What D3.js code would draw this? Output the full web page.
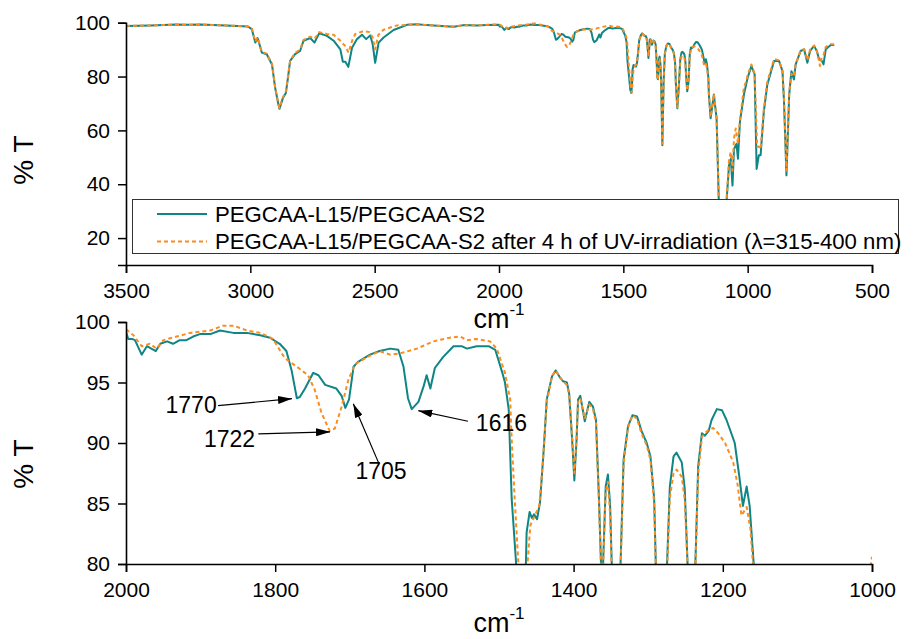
<!DOCTYPE html>
<html>
<head>
<meta charset="utf-8">
<script src="https://cdn.jsdelivr.net/npm/d3@7"></script>
<style>
  body { margin: 0; background: #fff; }
  text { font-family: Arial, 'Liberation Sans', sans-serif; fill: #000; }
</style>
</head>
<body>
<svg id="chart"></svg>
<script>
// FTIR spectra: [wavenumber cm-1, %T]
const seriesNames = [
  'PEGCAA-L15/PEGCAA-S2',
  'PEGCAA-L15/PEGCAA-S2 after 4 h of UV-irradiation (\u03bb=315-400 nm)',
];

const tealSpectrum = [
  [3500, 98.8], [3450, 98.9], [3400, 99.0], [3350, 99.1], [3300, 99.3], [3250, 99.2],
  [3200, 99.3], [3150, 99.1], [3100, 99.0], [3050, 98.8], [3010, 98.6], [2994, 97.6],
  [2980, 92.6], [2971, 94.3], [2962, 91.5], [2954, 88.9], [2934, 88.3], [2913, 84.5],
  [2900, 75.7], [2890, 71.0], [2883, 68.0], [2869, 72.0], [2857, 73.9], [2848, 80.0],
  [2840, 85.8], [2820, 88.3], [2800, 89.5], [2786, 93.3], [2759, 94.3], [2742, 92.6],
  [2723, 96.1], [2692, 95.1], [2665, 93.3], [2638, 90.1], [2628, 85.5], [2618, 85.5],
  [2606, 83.6], [2591, 90.7], [2571, 93.9], [2551, 95.5], [2534, 93.9], [2518, 95.3],
  [2508, 92.0], [2498, 85.1], [2484, 92.6], [2464, 94.5], [2424, 97.3], [2370, 99.2],
  [2330, 99.4], [2290, 99.1], [2249, 98.9], [2182, 98.5], [2142, 99.1], [2090, 99.0],
  [2048, 99.1],
  [2000, 99.2], [1997, 98.6], [1992, 98.6], [1988, 98.5], [1979, 97.3], [1972, 98.0],
  [1966, 97.8], [1960, 97.6], [1954, 98.2], [1945, 98.4], [1937, 98.2], [1928, 98.5],
  [1919, 98.5], [1910, 98.8], [1901, 99.0], [1887, 99.0], [1874, 99.3], [1856, 99.1],
  [1838, 99.1], [1820, 98.9], [1807, 98.7], [1794, 98.2], [1785, 97.6], [1778, 96.0],
  [1771, 93.7], [1767, 93.8], [1760, 94.5], [1749, 95.8], [1742, 95.6], [1733, 94.8],
  [1718, 94.5], [1711, 93.9], [1706, 92.9], [1701, 93.6], [1695, 96.3], [1689, 96.7],
  [1673, 97.3], [1660, 97.6], [1646, 97.8], [1635, 97.7], [1628, 96.3], [1622, 93.7],
  [1617, 92.8], [1608, 93.4], [1601, 94.7], [1597, 95.6], [1592, 94.5], [1586, 96.2],
  [1575, 97.1], [1561, 98.0], [1550, 98.0], [1543, 97.8], [1530, 98.0], [1514, 98.0],
  [1505, 97.7], [1496, 95.9], [1492, 95.0], [1487, 92.8], [1483, 85.4], [1477, 80.0],
  [1472, 75.0], [1468, 73.9], [1465, 77.0], [1463, 82.6], [1459, 84.3], [1456, 83.8],
  [1453, 84.1], [1449, 83.7], [1445, 85.1], [1440, 89.5], [1436, 93.6], [1429, 95.5],
  [1424, 96.0], [1418, 95.4], [1414, 95.1], [1409, 95.0], [1406, 94.1], [1402, 90.3],
  [1399, 86.9], [1396, 90.3], [1394, 93.6], [1391, 93.9], [1385, 91.8], [1379, 93.4],
  [1374, 93.0], [1370, 91.9], [1366, 85.4], [1363, 79.5], [1361, 79.0], [1357, 86.4],
  [1354, 87.4], [1351, 84.8], [1348, 78.0], [1343, 54.5], [1338, 78.0], [1333, 88.6],
  [1327, 91.4], [1321, 92.3], [1315, 92.2], [1309, 91.0], [1302, 90.0], [1297, 88.9],
  [1292, 85.4], [1289, 78.0], [1283, 68.2], [1277, 76.0], [1275, 79.5], [1271, 86.4],
  [1266, 88.9], [1262, 89.2], [1255, 88.4], [1251, 86.2], [1246, 78.0], [1243, 74.5],
  [1239, 77.0], [1237, 79.5], [1233, 88.1], [1228, 90.8], [1224, 90.6], [1219, 91.0],
  [1215, 91.9], [1208, 92.8], [1201, 92.7], [1195, 91.9], [1188, 90.7], [1184, 90.0],
  [1178, 87.3], [1173, 84.8], [1168, 86.4], [1164, 84.8], [1158, 79.5], [1156, 73.3],
  [1149, 64.5], [1136, 73.3], [1125, 64.5], [1116, 33.3], [1105, 30.0], [1095, 30.0],
  [1085, 33.5], [1075, 47.0], [1068, 49.5], [1061, 39.5], [1055, 53.0], [1045, 55.0],
  [1039, 49.5], [1031, 63.3], [1015, 73.3], [1000, 79.6], [985, 83.9], [972, 80.8],
  [964, 45.7], [955, 50.8], [948, 50.8], [935, 67.0], [921, 77.0], [894, 85.8],
  [874, 85.8], [860, 82.0], [854, 71.0], [844, 43.3], [833, 73.3], [824, 82.0],
  [814, 78.9], [807, 84.5], [787, 89.5], [773, 90.1], [760, 85.1], [749, 89.5],
  [733, 91.4], [722, 89.5], [713, 86.4], [703, 86.0], [695, 84.5], [686, 90.1],
  [666, 91.7], [652, 91.7],
];

const orangeSpectrum = [
  [3500, 98.8], [3450, 98.9], [3400, 99.0], [3350, 99.1], [3300, 99.3], [3250, 99.2],
  [3200, 99.3], [3150, 99.1], [3100, 99.0], [3050, 98.8], [3010, 98.6], [2994, 97.8],
  [2980, 93.0], [2971, 94.5], [2962, 91.8], [2954, 89.2], [2934, 88.5], [2913, 84.8],
  [2900, 76.0], [2890, 71.0], [2883, 68.3], [2869, 72.3], [2857, 74.5], [2848, 80.5],
  [2840, 86.0], [2820, 88.8], [2800, 90.0], [2786, 93.6], [2759, 94.8], [2742, 94.0],
  [2723, 96.5], [2692, 95.8], [2665, 95.5], [2640, 93.5], [2620, 91.5], [2605, 88.9],
  [2590, 93.5], [2578, 95.8], [2545, 96.9], [2520, 96.5], [2508, 94.5], [2498, 90.1],
  [2485, 95.5], [2464, 97.4], [2410, 99.0], [2370, 99.2], [2330, 99.4], [2290, 99.1],
  [2249, 98.9], [2182, 98.6], [2142, 99.1], [2090, 99.0], [2048, 99.2],
  [2000, 99.4], [1990, 98.9], [1979, 98.0], [1968, 98.2], [1959, 97.8], [1950, 98.5],
  [1932, 98.8], [1914, 99.1], [1901, 99.2], [1887, 99.3], [1870, 99.7], [1856, 99.7],
  [1838, 99.3], [1820, 99.1], [1803, 98.6], [1791, 97.4], [1787, 97.0], [1771, 96.3],
  [1756, 95.6], [1747, 94.4], [1738, 92.5], [1727, 91.0], [1720, 91.2], [1711, 93.0],
  [1702, 95.2], [1693, 96.5], [1677, 97.1], [1660, 97.6], [1646, 97.3], [1633, 97.4],
  [1610, 97.8], [1588, 98.4], [1566, 98.7], [1552, 98.8], [1543, 98.5], [1530, 98.6],
  [1512, 98.4], [1503, 97.8], [1492, 95.8], [1485, 93.6], [1483, 90.3], [1479, 85.4],
  [1474, 80.0], [1470, 75.0], [1466, 74.0], [1463, 79.0], [1458, 83.2], [1452, 84.0],
  [1446, 84.8], [1441, 88.6], [1436, 93.4], [1429, 95.5], [1424, 96.0], [1418, 95.4],
  [1414, 95.1], [1409, 94.8], [1406, 94.0], [1402, 90.5], [1399, 87.5], [1396, 90.5],
  [1394, 93.4], [1391, 93.7], [1385, 92.0], [1379, 93.2], [1374, 92.8], [1370, 91.7],
  [1366, 85.0], [1363, 79.3], [1361, 78.8], [1357, 86.0], [1354, 86.8], [1351, 84.0],
  [1348, 77.5], [1343, 55.0], [1338, 77.5], [1333, 88.3], [1327, 91.3], [1321, 92.3],
  [1315, 92.0], [1309, 90.8], [1302, 89.8], [1297, 88.6], [1292, 85.0], [1289, 78.0],
  [1283, 68.5], [1277, 76.0], [1275, 79.0], [1271, 85.5], [1266, 87.5], [1262, 87.8],
  [1255, 87.2], [1251, 85.3], [1246, 78.0], [1243, 74.8], [1239, 77.0], [1237, 79.3],
  [1233, 87.5], [1228, 90.5], [1224, 90.8], [1219, 91.1], [1213, 91.25], [1206, 90.8],
  [1197, 90.0], [1186, 88.4], [1180, 86.5], [1175, 84.0], [1168, 84.7], [1163, 82.9],
  [1159, 79.5], [1156, 73.5], [1149, 65.0], [1136, 73.5], [1125, 65.0], [1116, 34.0],
  [1105, 30.0], [1095, 30.0], [1085, 34.0], [1075, 49.0], [1068, 52.0], [1061, 45.0],
  [1055, 57.0], [1048, 60.7], [1039, 55.0], [1031, 64.0], [1015, 76.0], [1005, 78.5],
  [1000, 80.6], [985, 84.5], [972, 81.0], [962, 53.9], [955, 54.0], [948, 53.0],
  [935, 68.0], [921, 78.0], [894, 86.5], [874, 86.0], [860, 82.0], [854, 72.0],
  [844, 45.0], [833, 74.0], [824, 81.0], [814, 80.0], [807, 84.5], [787, 89.8],
  [773, 90.1], [760, 86.0], [749, 90.0], [733, 91.5], [722, 89.8], [709, 83.9],
  [703, 87.0], [695, 88.0], [686, 91.0], [666, 92.0], [652, 92.0],
];

// tick values
const topXTicks = [3500, 3000, 2500, 2000, 1500, 1000, 500];
const topXMinor = [3250, 2750, 2250, 1750, 1250, 750];
const topYTicks = [20, 40, 60, 80, 100];
const topYMinor = [10, 30, 50, 70, 90];
const botXTicks = [2000, 1800, 1600, 1400, 1200, 1000];
const botXMinor = [1900, 1700, 1500, 1300, 1100];
const botYTicks = [80, 85, 90, 95, 100];
const botYMinor = d3.range(81, 100).filter((v) => v % 5 !== 0);

// peak annotations (bottom panel): label, arrow tip, arrow tail, text anchor [wn, %T]
const peakLabels = ['1770', '1722', '1705', '1616'];
const peakTips = [[1777.5, 93.66], [1726.5, 90.92], [1695.3, 93.25], [1608.2, 92.67]];
const peakTails = [[1876.7, 93.09], [1822.6, 90.76], [1661.8, 88.42], [1541.6, 91.8]];
const peakText = [[1878.4, 92.5], [1827, 89.63], [1658.2, 87.0], [1531, 90.97]];
const peakAnchor = ['end', 'end', 'middle', 'start'];

const width = 915;
const height = 639;
const tealColor = '#0f8585';
const orangeColor = '#fb8c1e';

const svg = d3.select('#chart').attr('width', width).attr('height', height);

const defs = svg.append('defs');
defs.append('clipPath').attr('id', 'clip-bot')
  .append('rect').attr('x', 126).attr('y', 318).attr('width', 746).attr('height', 246);
defs.append('marker')
  .attr('id', 'arrow')
  .attr('markerUnits', 'userSpaceOnUse')
  .attr('viewBox', '0 0 14 8')
  .attr('markerWidth', 14).attr('markerHeight', 8)
  .attr('refX', 14).attr('refY', 4)
  .attr('orient', 'auto')
  .append('path').attr('d', 'M0,0 L14,4 L0,8 Z').attr('fill', '#000');

// scales
const xTop = d3.scaleLinear().domain([3500, 500]).range([126, 872]);
const yTop = d3.scaleLinear().domain([10, 100]).range([265, 22.7]);
const xBot = d3.scaleLinear().domain([2000, 1000]).range([126, 872]);
const yBot = d3.scaleLinear().domain([80, 100]).range([564, 322]);

function drawAxes(x, y, xTicks, xMinor, yTicks, yMinor, fmtX) {
  const y0 = y.range()[0];
  const x0 = x.range()[0];
  const gx = svg.append('g').attr('transform', `translate(0,${y0})`);
  gx.call(d3.axisBottom(x).tickValues(xMinor).tickSize(5).tickFormat(''));
  gx.call(d3.axisBottom(x).tickValues(xTicks).tickSize(8).tickPadding(10).tickFormat(fmtX));
  const gy = svg.append('g').attr('transform', `translate(${x0},0)`);
  gy.call(d3.axisLeft(y).tickValues(yMinor).tickSize(5).tickFormat(''));
  gy.call(d3.axisLeft(y).tickValues(yTicks).tickSize(8).tickPadding(8).tickFormat(d3.format('d')));
  svg.selectAll('.domain').attr('stroke', '#000').attr('stroke-width', 1.6);
  svg.selectAll('.tick line').attr('stroke', '#000').attr('stroke-width', 1.5);
  svg.selectAll('.tick text').style('font-size', '21px').attr('fill', '#000');
}

function drawCurves(g, x, y, data, color, dashed) {
  const line = d3.line().x((d) => x(d[0])).y((d) => y(d[1]));
  g.append('path')
    .datum(data)
    .attr('d', line)
    .attr('fill', 'none')
    .attr('stroke', color)
    .attr('stroke-width', 2)
    .attr('stroke-linejoin', 'round')
    .attr('stroke-dasharray', dashed ? '4,3' : null);
}

function axisTitles(cx, yLabelCenter, cmBaseline) {
  svg.append('text')
    .attr('transform', `translate(33,${yLabelCenter}) rotate(-90)`)
    .attr('text-anchor', 'middle')
    .style('font-size', '28px')
    .text('% T');
  const t = svg.append('text')
    .attr('x', cx).attr('y', cmBaseline)
    .attr('text-anchor', 'middle')
    .style('font-size', '27px');
  t.append('tspan').text('cm');
  t.append('tspan').attr('dy', -13).style('font-size', '17px').text('-1');
}

// ---- top panel ----
const gTop = svg.append('g');
drawCurves(gTop, xTop, yTop, tealSpectrum, tealColor, false);
drawCurves(gTop, xTop, yTop, orangeSpectrum, orangeColor, true);
drawAxes(xTop, yTop, topXTicks, topXMinor, topYTicks, topYMinor, d3.format('d'));
axisTitles(499, 160, 328);

// legend
const legend = svg.append('g');
legend.append('rect')
  .attr('x', 132.5).attr('y', 199.5).attr('width', 766).attr('height', 54)
  .attr('fill', '#fff').attr('stroke', '#333').attr('stroke-width', 1);
const legendColors = [tealColor, orangeColor];
seriesNames.forEach((name, i) => {
  const ly = 214 + i * 27.5;
  legend.append('line')
    .attr('x1', 157).attr('x2', 207).attr('y1', ly).attr('y2', ly)
    .attr('stroke', legendColors[i]).attr('stroke-width', 2)
    .attr('stroke-dasharray', i === 1 ? '4,3' : null);
  legend.append('text')
    .attr('x', 215).attr('y', ly + 7.5)
    .style('font-size', '22.2px')
    .text(name);
});

// ---- bottom panel ----
const gBot = svg.append('g').attr('clip-path', 'url(#clip-bot)');
const inRange = (d) => d[0] <= 2010 && d[0] >= 990;
drawCurves(gBot, xBot, yBot, tealSpectrum.filter(inRange), tealColor, false);
drawCurves(gBot, xBot, yBot, orangeSpectrum.filter(inRange), orangeColor, true);
drawAxes(xBot, yBot, botXTicks, botXMinor, botYTicks, botYMinor, d3.format('d'));
axisTitles(499, 464, 632);

// peak labels with arrows
peakLabels.forEach((lab, i) => {
  svg.append('line')
    .attr('x1', xBot(peakTails[i][0])).attr('y1', yBot(peakTails[i][1]))
    .attr('x2', xBot(peakTips[i][0])).attr('y2', yBot(peakTips[i][1]))
    .attr('stroke', '#000').attr('stroke-width', 1.2)
    .attr('marker-end', 'url(#arrow)');
  svg.append('text')
    .attr('x', xBot(peakText[i][0])).attr('y', yBot(peakText[i][1]))
    .attr('text-anchor', peakAnchor[i])
    .style('font-size', '23px')
    .text(lab);
});
</script>
</body>
</html>
